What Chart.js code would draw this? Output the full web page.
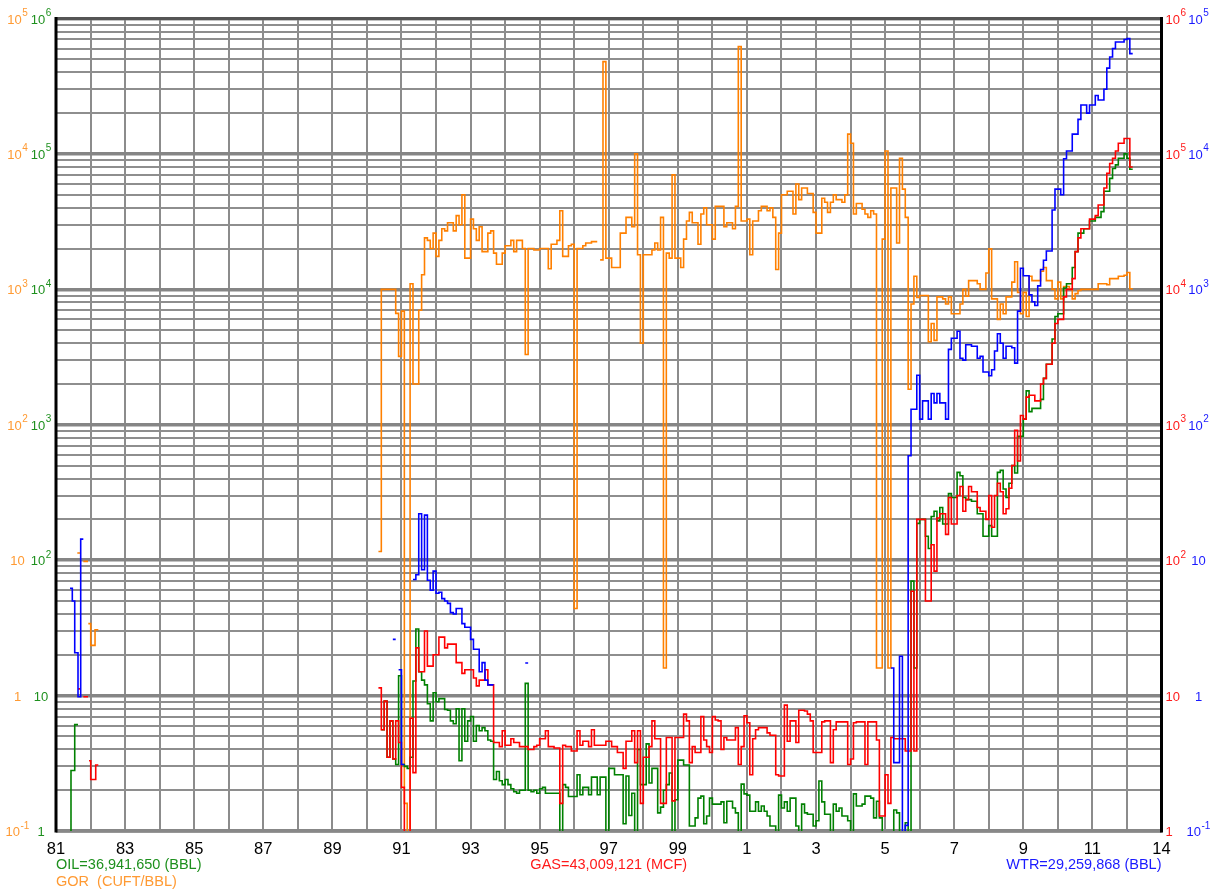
<!DOCTYPE html>
<html>
<head>
<meta charset="utf-8">
<title>Well production history</title>
<script src="https://cdn.jsdelivr.net/npm/chart.js@4.4.0/dist/chart.umd.min.js"></script>
<style>
  html, body { margin: 0; padding: 0; background: #fff; }
  #wrap { width: 1219px; height: 893px; }
</style>
</head>
<body>
<div id="wrap"><canvas id="prod" width="1219" height="893"></canvas></div>
<script>
// monthly values, one row per year, Jan 1990 .. Feb 2012 (null = no report, 0 = below the axis)
const firstYear = 1990;

const oil = [
  null, null, null, null, null, 5.6, 9.1, 3.5, 6.5, 3.4, 3.1, 14,            // 1990
  3.1, 3.0, 2.9, 3.5, 12.8, 31, 15, 13, 12, 8.7, 6.5, 10.5,                  // 1991
  9.0, 9.5, 9.5, 7.9, 7.8, 6.5, 6.2, 8.0, 3.3, 8.0, 4.6, 6.5,                // 1992
  7.0, 4.6, 6.0, 5.5, 5.8, 5.5, 4.7, 4.6, 2.4, 2.75, 2.35, 2.2,              // 1993
  2.4, 2.2, 2.05, 1.95, 1.9, 2.0, 2.0, 12.3, 2.0, 1.95, 2.0, 1.9,            // 1994
  2.05, 2.1, 1.9, 1.9, 1.9, 1.9, 1.9, 0, 2.2, 2.1, 1.8, 1.8,                 // 1995
  1.8, 2.6, 1.85, 2.1, 2.1, 1.85, 2.5, 2.5, 1.85, 2.5, 2.5, 0,               // 1996
  2.9, 2.9, 2.6, 2.6, 2.6, 1.13, 2.55, 1.3, 1.9, 0, 4.0, 2.2,                // 1997
  2.2, 4.4, 2.26, 2.9, 2.9, 1.36, 1.5, 2.0, 2.2, 2.68, 0, 1.7,               // 1998
  3.34, 3.34, 3.07, 3.07, 1.09, 1.09, 1.25, 1.75, 1.81, 1.13, 1.29, 1.75,    // 1999
  1.58, 1.58, 1.58, 1.64, 1.15, 1.66, 1.66, 1.48, 1.36, 0, 2.22, 1.88,       // 2000
  1.84, 1.4, 1.4, 1.64, 1.4, 1.53, 1.4, 1.29, 1.09, 1.09, 0, 1.84,           // 2001
  1.48, 1.64, 1.4, 1.75, 1.75, 1.09, 0, 1.58, 1.36, 1.33, 1.33, 1.09,        // 2002
  1.19, 2.34, 1.64, 1.33, 1.33, 0, 1.58, 1.4, 1.48, 1.29, 1.29, 1.19,        // 2003
  0, 1.88, 1.53, 1.53, 1.58, 1.81, 1.81, 1.75, 1.25, 1.66, 1.25, 0,          // 2004
  0, 0, 0, 1.43, 1.36, 0, 0, 1.15, 0, 70, 16, 187,                           // 2005
  200, 200, 150, 122, 210, 230, 195, 245, 185, 185, 310, 290,                // 2006
  290, 445, 420, 290, 280, 280, 272, 272, 220, 220, 150, 150,                // 2007
  180, 150, 150, 445, 460, 335, 290, 370, 500, 440, 820, 820,                // 2008
  1100, 1780, 1250, 1320, 1320, 1320, 1540, 2200, 2800, 2800, 4300, 6300,    // 2009
  6600, 6600, 10200, 11000, 11000, 14500, 19000, 26000, 26000, 28000, 28000, 32000, // 2010
  32000, 34000, 34000, 37500, 53000, 53000, 66000, 78000, 83000, 93000, 93000, 100000, // 2011
  93000, 77000                                                               // 2012
];

const gas = [
  null, null, null, null, 11.4, 5.6, 9.1, 3.5, 6.5, 3.4, 6.5, 4.5,           // 1990
  2.1, 0, 0, 6.8, 2.7, 22.5, 15, 15, 30, 16.5, 16.5, 20,                     // 1991
  20, 27, 27, 22.5, 24, 24, 24, 17.5, 17.5, 14.6, 15.5, 15.5,                // 1992
  15.5, 13.5, 11.8, 13, 13, 15.5, 12, 12, 4.5, 4.5, 4.2, 5.5,                // 1993
  4.3, 4.3, 4.8, 4.5, 4.5, 4.2, 4.2, 4.2, 4.0, 4.0, 4.2, 4.3,                // 1994
  4.8, 4.8, 5.5, 4.2, 4.2, 4.1, 4.1, 1.6, 4.3, 4.2, 4.2, 3.9,                // 1995
  3.9, 5.5, 4.3, 4.6, 4.6, 4.2, 5.6, 4.3, 4.3, 4.3, 4.3, 4.6,                // 1996
  4.6, 4.2, 4.2, 3.8, 3.8, 2.9, 4.6, 4.6, 5.5, 3.2, 5.5, 1.6,                // 1997
  3.5, 3.5, 4.2, 6.5, 4.8, 4.8, 1.6, 1.6, 4.9, 4.9, 1.67, 4.9,               // 1998
  4.9, 4.9, 7.3, 6.5, 3.2, 4.2, 3.8, 3.8, 7.0, 4.7, 4.2, 3.8,                // 1999
  7.0, 6.6, 6.5, 4.0, 4.9, 4.7, 4.7, 4.7, 5.8, 3.1, 4.2, 7.1,                // 2000
  6.3, 2.6, 4.8, 5.6, 5.8, 5.8, 5.8, 5.3, 5.1, 5.1, 2.6, 2.55,               // 2001
  2.55, 8.5, 4.6, 6.5, 6.5, 4.5, 7.8, 7.8, 7.7, 7.3, 6.5, 3.8,               // 2002
  3.8, 3.8, 6.4, 6.5, 6.5, 3.2, 5.6, 6.4, 6.4, 6.4, 6.4, 3.1,                // 2003
  3.4, 6.3, 6.4, 6.4, 6.4, 3.1, 6.4, 6.4, 6.4, 4.7, 1.29, 1.29,              // 2004
  2.6, 1.6, 4.9, 4.8, 4.8, 4.8, 4.8, 3.9, 3.9, 59, 3.9, 200,                 // 2005
  200, 200, 50, 50, 130, 83, 205, 220, 220, 155, 290, 185,                   // 2006
  185, 300, 350, 230, 280, 350, 320, 320, 245, 230, 230, 200,                // 2007
  300, 175, 300, 370, 320, 220, 240, 340, 500, 910, 540, 1170,               // 2008
  1100, 1600, 1650, 1650, 1500, 1500, 2000, 2200, 2800, 2800, 4000, 5600,    // 2009
  6000, 6000, 8800, 10000, 10000, 12000, 19000, 24000, 28000, 28000, 28000, 33000, // 2010
  33000, 35000, 42000, 42000, 56000, 72000, 85000, 93000, 105000, 120000, 120000, 130000, // 2011
  130000, 80000                                                              // 2012
];

const water = [
  null, null, null, null, null, null, null, null, null, 2.6, null, 1.55,     // 1990
  0.31, null, null, null, 7.2, 7.8, 22, 8.5, 21.5, 7.1, 6.0, 8.3,            // 1991
  5.7, 5.8, 5.2, 5.0, 4.8, 4.1, 4.0, 4.4, 4.4, 3.4, 3.2, 3.2,                // 1992
  2.6, 2.2, 2.2, 1.5, 1.75, 1.3, 1.2, 1.2, null, null, null, null,           // 1993
  null, null, null, null, null, null, null, 1.74, null, null, null, null,    // 1994
  null, null, null, null, null, null, null, null, null, null, null, null,    // 1995
  null, null, null, null, null, null, null, null, null, null, null, null,    // 1996
  null, null, null, null, null, null, null, null, null, null, null, null,    // 1997
  null, null, null, null, null, null, null, null, null, null, null, null,    // 1998
  null, null, null, null, null, null, null, null, null, null, null, null,    // 1999
  null, null, null, null, null, null, null, null, null, null, null, null,    // 2000
  null, null, null, null, null, null, null, null, null, null, null, null,    // 2001
  null, null, null, null, null, null, null, null, null, null, null, null,    // 2002
  null, null, null, null, null, null, null, null, null, null, null, null,    // 2003
  null, null, null, null, null, null, null, null, null, null, null, null,    // 2004
  null, null, 1.6, 0.32, 0.32, 1.95, 0, 0.11, 59, 130, 130, 232,             // 2005
  110, 150, 150, 110, 170, 145, 170, 145, 145, 110, 360, 435,                // 2006
  435, 490, 310, 300, 390, 390, 380, 380, 310, 320, 245, 245,                // 2007
  230, 255, 350, 470, 400, 310, 380, 380, 370, 285, 690, 1430,               // 2008
  1260, 1260, 910, 810, 760, 1060, 1400, 1640, 1920, 1920, 3850, 5500,       // 2009
  5500, 5000, 9200, 10500, 10500, 14000, 14000, 18000, 23000, 23000, 20000, 23000, // 2010
  23000, 27000, 25000, 25000, 30000, 43000, 52000, 60000, 67000, 67000, 67000, 70000, // 2011
  71000, 55000                                                               // 2012
];

const gor = [
  null, null, null, null, 11.6, 1000, 1000, 1000, 1000, 1000, 665, 320,      // 1990
  690, 0.16, 0, 1100, 200, 200, 700, 1280, 2400, 2300, 2000, 2600,           // 1991
  1750, 2300, 2800, 2700, 3100, 3100, 2700, 3500, 3000, 5000, 1700, 1700,    // 1992
  3300, 2800, 2300, 2900, 1900, 1900, 2600, 2700, 1850, 1530, 1530, 1850,    // 1993
  2100, 2100, 2300, 1900, 2300, 2300, 2000, 330, 2000, 2000, 1950, 1950,     // 1994
  2000, 2000, 2000, 1420, 2150, 2150, 2300, 3800, 1750, 1750, 2100, 2150,    // 1995
  4.4, 2000, 2000, 2100, 2200, 2200, 2250, 2250, null, 1650, 48000, 1700,    // 1996
  1700, 1450, 1450, 1450, 2600, 2600, 3400, 3400, 2900, 10000, 1800, 400,    // 1997
  1800, 1800, 1800, 1950, 2200, 1950, 3400, 1.6, 1850, 1700, 7000, 1700,     // 1998
  1700, 1450, 2350, 3200, 3700, 3100, 3100, 2150, 3600, 4000, 3000, 3000,    // 1999
  2350, 4100, 4100, 4100, 2900, 3100, 3100, 2800, 4100, 62000, 3200, 3200,   // 2000
  3300, 1800, 3200, 3200, 3800, 4100, 4100, 3800, 4000, 3400, 1400, 2600,    // 2001
  5000, 5000, 5300, 5300, 3600, 6000, 4600, 5600, 5600, 5100, 5100, 3700,    // 2002
  2600, 2600, 4700, 4400, 3700, 4400, 5000, 4600, 4600, 4400, 5000, 14000,   // 2003
  12000, 3600, 4300, 4300, 3900, 3600, 3400, 3800, 3600, 1.6, 1.6, 2350,     // 2004
  10500, 1.6, 5600, 5600, 2200, 9300, 5500, 3400, 183, 780, 1250, 870,       // 2005
  900, 900, 900, 410, 560, 420, 880, 880, 850, 780, 880, 660,                // 2006
  660, 660, 780, 1000, 890, 1160, 1160, 1160, 1100, 1000, 1000, 1320,        // 2007
  1990, 850, 850, 600, 780, 660, 880, 880, 1130, 1600, 950, 660,             // 2008
  950, 630, 1250, 1160, 1160, 1160, 1360, 1450, 1160, 1160, 1000, 850,       // 2009
  1130, 850, 1050, 1050, 1000, 850, 930, 980, 1000, 1000, 1000, 1000,        // 2010
  1000, 1000, 1100, 1100, 1100, 1080, 1200, 1200, 1200, 1250, 1250, 1270,   // 2011
  1330, 1010                                                                 // 2012
];

// short early test period, 1981-82: [decimal year, value], null breaks the line
const oilEarly = [[1981.38, 0], [1981.434, 2.8], [1981.542, 6.1], [1981.637, 6.1]];
const waterEarly = [[1981.405, 6.2], [1981.472, 5.0], [1981.542, 2.07], [1981.637, 0.98], [1981.715, 14.3], [1981.791, 14.3]];
const gasEarly = [[1981.637, 11.2], [1981.715, 11.2], [1981.75, null], [1981.791, 9.8], [1981.927, 9.8], [1981.94, null],
                  [1981.956, 3.3], [1982.005, 2.4], [1982.15, 3.07], [1982.225, 3.07]];
const gorEarly = [[1981.617, 11.3], [1981.715, 11.3], [1981.75, null], [1981.791, 9.8], [1981.927, 9.8], [1981.93, null],
                  [1981.935, 3.4], [1982.005, 2.35], [1982.13, 3.06], [1982.225, 3.06]];

// axis text
const xTickYears = [1981, 1983, 1985, 1987, 1989, 1991, 1993, 1995, 1997, 1999, 2001, 2003, 2005, 2007, 2009, 2011, 2013];
const xTickText = ['81', '83', '85', '87', '89', '91', '93', '95', '97', '99', '1', '3', '5', '7', '9', '11', '14'];
const oilExp = [0, 1, 2, 3, 4, 5, 6];     // left, green  (also gas, right red)
const gorExp = [-1, 0, 1, 2, 3, 4, 5];    // left, orange (also water, right blue)
const captionOil = 'OIL=36,941,650 (BBL)';
const captionGor = 'GOR  (CUFT/BBL)';
const captionGas = 'GAS=43,009,121 (MCF)';
const captionWtr = 'WTR=29,259,868 (BBL)';

const FONT = '"Liberation Sans", Arial, Helvetica, sans-serif';
const colors = {
  oil: '#008000', gas: '#ff0000', wtr: '#0000ff', gor: '#ff8000',
  oilText: '#1e901e', gasText: '#ff1a1a', wtrText: '#1a1aff', gorText: '#ff9a33'
};

const BELOW = 1e-6; // zero production is drawn under the axis and clipped

function toPoints(early, monthly) {
  const pts = early.map(([x, y]) => ({ x, y: y === 0 ? BELOW : y }));
  pts.push({ x: 1985, y: null });
  for (let i = 0; i < monthly.length; i++) {
    const v = monthly[i];
    if (v === null) continue;
    const x = firstYear + i / 12;
    pts.push({ x, y: v === 0 ? BELOW : v });
    const next = monthly[i + 1];
    if (next === null || next === undefined) {
      // close the month, then break
      pts.push({ x: firstYear + (i + 1) / 12, y: v === 0 ? BELOW : v });
      pts.push({ x: firstYear + (i + 1) / 12, y: null });
    }
  }
  return pts;
}

function logTicks(minExp, maxExp) {
  const out = [];
  for (let e = minExp; e < maxExp; e++) {
    for (let m = 1; m <= 9; m++) out.push({ value: Number((m * Math.pow(10, e)).toPrecision(3)) });
  }
  out.push({ value: Math.pow(10, maxExp) });
  return out;
}

function isDecade(v) {
  const l = Math.log10(v);
  return Math.abs(l - Math.round(l)) < 1e-9;
}

function drawPower(ctx, exp, x, y, color, align) {
  const base = exp === 0 ? '1' : '10';
  const sup = (exp === 0 || exp === 1) ? '' : String(exp);
  ctx.font = '13px ' + FONT;
  const bw = ctx.measureText(base).width;
  ctx.font = '10px ' + FONT;
  const sw = sup ? ctx.measureText(sup).width + 0.5 : 0;
  let left = x;
  if (align === 'center') left = x - (bw + sw) / 2;
  ctx.fillStyle = color;
  ctx.textAlign = 'left';
  ctx.textBaseline = 'alphabetic';
  ctx.font = '13px ' + FONT;
  ctx.fillText(base, left, y + 5);
  if (sup) {
    ctx.font = '10px ' + FONT;
    ctx.fillText(sup, left + bw + 0.5, y - 2.5);
  }
}

const framePlugin = {
  id: 'frame',
  beforeDatasetsDraw(chart) {
    const { ctx, chartArea: a } = chart;
    ctx.save();
    ctx.lineCap = 'butt';
    ctx.strokeStyle = '#555';
    ctx.lineWidth = 3;
    ctx.beginPath(); ctx.moveTo(a.left, a.top); ctx.lineTo(a.right, a.top); ctx.stroke();
    ctx.strokeStyle = '#888';
    ctx.lineWidth = 3.5;
    ctx.beginPath(); ctx.moveTo(a.left, a.bottom); ctx.lineTo(a.right, a.bottom); ctx.stroke();
    ctx.strokeStyle = '#000';
    ctx.lineWidth = 3;
    ctx.beginPath(); ctx.moveTo(a.left, a.top - 1.5); ctx.lineTo(a.left, a.bottom + 1.5); ctx.stroke();
    ctx.beginPath(); ctx.moveTo(a.right, a.top - 1.5); ctx.lineTo(a.right, a.bottom + 1.5); ctx.stroke();
    ctx.restore();
  },
  afterDraw(chart) {
    const { ctx, chartArea: a } = chart;
    const xs = chart.scales.x, y1 = chart.scales.y, y2 = chart.scales.y2;
    ctx.save();

    // year labels
    ctx.font = '16.5px ' + FONT;
    ctx.fillStyle = '#000';
    ctx.textAlign = 'center';
    ctx.textBaseline = 'alphabetic';
    xTickYears.forEach((yr, i) => ctx.fillText(xTickText[i], xs.getPixelForValue(yr), a.bottom + 23));

    // decade labels, both sides
    oilExp.forEach(e => {
      const py = y1.getPixelForValue(Math.pow(10, e));
      drawPower(ctx, e, 41, py, colors.oilText, 'center');
      drawPower(ctx, e, a.right + 4, py, colors.gasText, 'left');
    });
    gorExp.forEach(e => {
      const py = y2.getPixelForValue(Math.pow(10, e));
      drawPower(ctx, e, 17.5, py, colors.gorText, 'center');
      drawPower(ctx, e, a.right + 37, py, colors.wtrText, 'center');
    });

    // totals
    ctx.font = '14.5px ' + FONT;
    ctx.textAlign = 'left';
    ctx.fillStyle = colors.oilText;
    ctx.fillText(captionOil, a.left, a.bottom + 38);
    ctx.fillStyle = colors.gorText;
    ctx.fillText(captionGor, a.left, a.bottom + 55);
    ctx.textAlign = 'center';
    ctx.fillStyle = colors.gasText;
    ctx.fillText(captionGas, (a.left + a.right) / 2, a.bottom + 38);
    ctx.textAlign = 'right';
    ctx.fillStyle = colors.wtrText;
    ctx.fillText(captionWtr, a.right, a.bottom + 38);
    ctx.restore();
  }
};

const lineStyle = { pointRadius: 0, borderWidth: 1.6, fill: false, stepped: true, tension: 0, spanGaps: false };

new Chart(document.getElementById('prod'), {
  type: 'line',
  data: {
    datasets: [
      Object.assign({ label: 'WTR', data: toPoints(waterEarly, water), borderColor: colors.wtr, yAxisID: 'y2' }, lineStyle),
      Object.assign({ label: 'GAS', data: toPoints(gasEarly, gas), borderColor: colors.gas, yAxisID: 'y' }, lineStyle),
      Object.assign({ label: 'OIL', data: toPoints(oilEarly, oil), borderColor: colors.oil, yAxisID: 'y' }, lineStyle),
      Object.assign({ label: 'GOR', data: toPoints(gorEarly, gor), borderColor: colors.gor, yAxisID: 'y2' }, lineStyle)
    ]
  },
  options: {
    responsive: false,
    animation: false,
    devicePixelRatio: 1,
    layout: { padding: { left: 56, right: 57.5, top: 18.5, bottom: 62 } },
    plugins: { legend: { display: false }, tooltip: { enabled: false } },
    scales: {
      x: {
        type: 'linear', min: 1981, max: 2013,
        grid: { color: '#8c8c8c', lineWidth: 2, drawTicks: false },
        border: { display: false },
        ticks: { display: false },
        afterBuildTicks: s => { s.ticks = []; for (let yr = 1981; yr <= 2013; yr++) s.ticks.push({ value: yr }); },
        afterFit: s => { s.height = 0; }
      },
      y: {
        type: 'logarithmic', position: 'left', min: 1, max: 1e6,
        grid: {
          drawTicks: false,
          color: c => isDecade(c.tick.value) ? '#858585' : '#8e8e8e',
          lineWidth: c => isDecade(c.tick.value) ? 3.5 : 2
        },
        border: { display: false },
        ticks: { display: false },
        afterBuildTicks: s => { s.ticks = logTicks(0, 6); },
        afterFit: s => { s.width = 0; }
      },
      y2: {
        type: 'logarithmic', position: 'right', min: 0.1, max: 1e5,
        display: false
      }
    }
  },
  plugins: [framePlugin]
});
</script>
</body>
</html>
